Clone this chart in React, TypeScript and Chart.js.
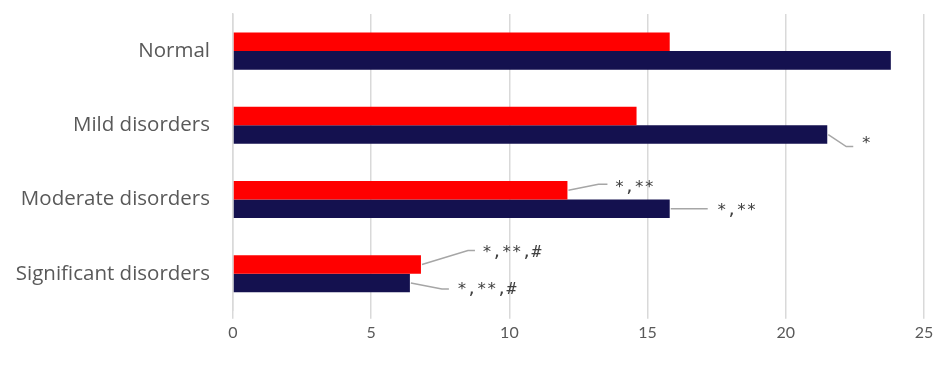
import React, { useEffect, useRef } from "react";
import { Chart, registerables } from "chart.js";

Chart.register(...registerables);

const categories = ["Normal", "Mild disorders", "Moderate disorders", "Significant disorders"];
const redValues = [15.8, 14.6, 12.1, 6.8];
const navyValues = [23.8, 21.5, 15.8, 6.4];
const redNotes = ["", "", "*,**", "*,**,#"];
const navyNotes = ["", "*", "*,**", "*,**,#"];
const xTicks = [0, 5, 10, 15, 20, 25];

// leader-line geometry per note: [bendDx, bendDy, endDx, textDx, textDy]
const redLeaders: number[][] = [
  [0, 0, 0, 0, 0],
  [0, 0, 0, 0, 0],
  [30, -6, 39, 46, -3],
  [46, -14, 53, 60, -12],
];
const navyLeaders: number[][] = [
  [0, 0, 0, 0, 0],
  [18, 12, 25, 33, 9],
  [0, 0, 37, 46, 2],
  [31, 6, 38, 46, 7],
];

const notesPlugin = {
  id: "notes",
  afterDatasetsDraw(chart: any) {
    const ctx = chart.ctx;
    const sets = [
      { idx: 0, notes: redNotes, geo: redLeaders },
      { idx: 1, notes: navyNotes, geo: navyLeaders },
    ];
    ctx.save();
    for (const s of sets) {
      const meta = chart.getDatasetMeta(s.idx);
      meta.data.forEach((bar: any, i: number) => {
        const note = s.notes[i];
        if (!note) return;
        const g = s.geo[i];
        const x0 = bar.x + 1;
        const y0 = bar.y;
        ctx.strokeStyle = "#a6a6a6";
        ctx.lineWidth = 1.5;
        ctx.beginPath();
        ctx.moveTo(x0, y0);
        if (g[0] !== 0 || g[1] !== 0) ctx.lineTo(x0 + g[0], y0 + g[1]);
        ctx.lineTo(x0 + g[2], y0 + g[1]);
        ctx.stroke();
        ctx.fillStyle = "#404040";
        ctx.font = "16.5px 'DejaVu Sans Mono'";
        ctx.textAlign = "left";
        ctx.textBaseline = "middle";
        ctx.fillText(note, x0 + g[3], y0 + g[4]);
      });
    }
    ctx.restore();
  },
};

export default function App() {
  const ref = useRef<HTMLCanvasElement>(null);
  useEffect(() => {
    if (!ref.current) return;
    const chart = new Chart(ref.current, {
      type: "bar",
      data: {
        labels: categories,
        datasets: [
          { data: redValues, backgroundColor: "#ff0000", categoryPercentage: 0.5, barPercentage: 1 },
          { data: navyValues, backgroundColor: "#14114f", categoryPercentage: 0.5, barPercentage: 1 },
        ],
      },
      options: {
        indexAxis: "y",
        animation: false,
        responsive: false,
        maintainAspectRatio: false,
        layout: { padding: { top: 14, right: 22, bottom: 19, left: 0 } },
        plugins: { legend: { display: false }, tooltip: { enabled: false } },
        scales: {
          x: {
            min: 0,
            max: 25,
            afterBuildTicks: (s: any) => {
              s.ticks = xTicks.map((v) => ({ value: v }));
            },
            grid: { color: "#d9d9d9", lineWidth: 1.5, tickLength: 8 },
            border: { display: false },
            ticks: { color: "#595959", padding: 4, font: { family: "Lato", size: 16 } },
          },
          y: {
            afterFit: (s: any) => {
              s.width = 233;
              s.paddingTop = 0;
              s.paddingBottom = 0;
            },
            grid: { display: false, drawTicks: false },
            border: { display: true, color: "#d9d9d9", width: 1.5 },
            ticks: { color: "#595959", padding: 23, font: { family: "Open Sans", size: 20.5 } },
          },
        },
      },
      plugins: [notesPlugin],
    });
    return () => chart.destroy();
  }, []);
  return (
    <div style={{ position: "fixed", left: 0, top: 0, width: 946, height: 365, background: "#fff" }}>
      <canvas ref={ref} width={946} height={365} />
    </div>
  );
}
